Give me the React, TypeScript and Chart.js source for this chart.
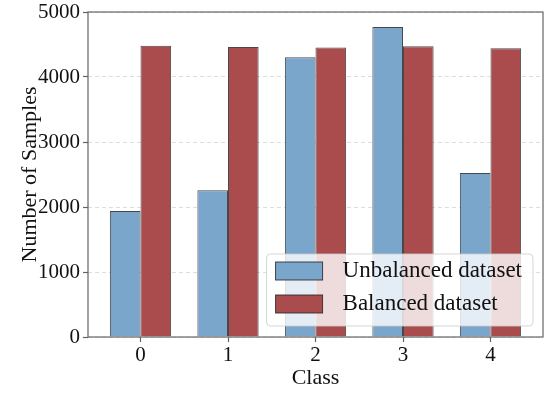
import React, { useEffect, useRef } from "react";
import { Chart, registerables } from "chart.js";

Chart.register(...registerables);

const categories = ["0", "1", "2", "3", "4"];
const unbalancedValues = [1938, 2257, 4305, 4770, 2522];
const balancedValues = [4482, 4462, 4455, 4472, 4442];
const yTicks = [0, 1000, 2000, 3000, 4000, 5000];
const seriesLabels = ["Unbalanced dataset", "Balanced dataset"];

const FONT = "'Liberation Serif', 'DejaVu Serif', serif";
const BLUE = "rgb(122,166,204)";
const RED = "rgb(170,75,78)";
const EDGE = "rgba(40,40,40,0.85)";
const FRAME = "rgb(100,100,100)";

const framePlugin = {
  id: "frame",
  afterDatasetsDraw(chart: any) {
    const { ctx, chartArea } = chart;
    ctx.save();
    ctx.strokeStyle = FRAME;
    ctx.lineWidth = 1.2;
    ctx.strokeRect(chartArea.left, chartArea.top, chartArea.right - chartArea.left, chartArea.bottom - chartArea.top);
    ctx.restore();
  },
};

const legendPlugin = {
  id: "innerLegend",
  afterDraw(chart: any) {
    const { ctx, chartArea } = chart;
    ctx.save();
    ctx.font = `23px ${FONT}`;
    const labels = chart.data.datasets.map((d: any) => d.label);
    const textW = Math.max(...labels.map((l: string) => ctx.measureText(l).width));
    const padL = 9, handleW = 47, gap = 20, padR = 11;
    const w = Math.max(266, padL + handleW + gap + textW + padR);
    const h = 72;
    const right = chartArea.right - 10;
    const bottom = chartArea.bottom - 11;
    const left = right - w;
    const top = bottom - h;
    ctx.beginPath();
    if ((ctx as any).roundRect) (ctx as any).roundRect(left, top, w, h, 4);
    else ctx.rect(left, top, w, h);
    ctx.fillStyle = "rgba(255,255,255,0.8)";
    ctx.fill();
    ctx.strokeStyle = "rgba(204,204,204,0.8)";
    ctx.lineWidth = 1;
    ctx.stroke();
    const rows = [top + 8, top + 41];
    chart.data.datasets.forEach((d: any, i: number) => {
      const y = rows[i];
      ctx.fillStyle = d.backgroundColor;
      ctx.fillRect(left + padL, y, handleW, 18);
      ctx.strokeStyle = EDGE;
      ctx.lineWidth = 1;
      ctx.strokeRect(left + padL, y, handleW, 18);
      ctx.fillStyle = "#111";
      ctx.textBaseline = "middle";
      ctx.textAlign = "left";
      ctx.fillText(d.label, left + padL + handleW + gap, y + 9);
    });
    ctx.restore();
  },
};

export default function App() {
  const ref = useRef<HTMLCanvasElement | null>(null);
  useEffect(() => {
    if (!ref.current) return;
    const chart = new Chart(ref.current, {
      type: "bar",
      data: {
        datasets: [
          {
            label: seriesLabels[0],
            data: unbalancedValues.map((v, i) => ({ x: i, y: v })),
            backgroundColor: BLUE,
            borderColor: EDGE,
            borderWidth: 1,
            categoryPercentage: 0.7,
            barPercentage: 1,
          },
          {
            label: seriesLabels[1],
            data: balancedValues.map((v, i) => ({ x: i, y: v })),
            backgroundColor: RED,
            borderColor: EDGE,
            borderWidth: 1,
            categoryPercentage: 0.7,
            barPercentage: 1,
          },
        ],
      },
      options: {
        animation: false,
        responsive: false,
        maintainAspectRatio: false,
        layout: { padding: { top: 12, right: 5, left: 0, bottom: 0 } },
        plugins: { legend: { display: false }, tooltip: { enabled: false } },
        scales: {
          x: {
            type: "linear",
            offset: false,
            min: -0.6,
            max: 4.6,
            afterBuildTicks: (scale: any) => {
              scale.ticks = categories.map((_, i) => ({ value: i }));
            },
            afterFit: (scale: any) => {
              scale.height = 56;
              scale.paddingLeft = 0;
              scale.paddingRight = 0;
            },
            ticks: {
              callback: (v: any) => categories[Math.round(Number(v))] ?? "",
              font: { family: FONT, size: 21 },
              color: "#111",
              padding: 1,
              maxRotation: 0,
            },
            grid: { offset: false, drawOnChartArea: false, drawTicks: true, tickLength: 5, tickColor: FRAME, tickWidth: 1.2 },
            border: { display: false },
            title: { display: true, text: "Class", font: { family: FONT, size: 22 }, color: "#111", padding: { top: 0, bottom: 2 } },
          },
          y: {
            min: 0,
            max: 5000,
            afterBuildTicks: (scale: any) => {
              scale.ticks = yTicks.map((v) => ({ value: v }));
            },
            afterFit: (scale: any) => {
              scale.width = 88;
              scale.paddingTop = 0;
              scale.paddingBottom = 0;
            },
            ticks: {
              font: { family: FONT, size: 21 },
              color: "#111",
              padding: 3,
              callback: (v: any) => String(v),
            },
            grid: {
              color: "rgba(0,0,0,0.13)",
              lineWidth: 1,
              drawTicks: true,
              tickLength: 5,
              tickColor: FRAME,
              tickWidth: 1.2,
              tickBorderDash: [],
            },
            border: { display: false, dash: [4, 3] },
            title: { display: true, text: "Number of Samples", font: { family: FONT, size: 22 }, color: "#111", padding: { top: 17, bottom: 0 } },
          },
        },
      },
      plugins: [framePlugin, legendPlugin],
    } as any);
    return () => chart.destroy();
  }, []);
  return (
    <div style={{ position: "fixed", left: 0, top: 0, width: 548, height: 393, background: "#fff" }}>
      <canvas ref={ref} width={548} height={393} />
    </div>
  );
}
